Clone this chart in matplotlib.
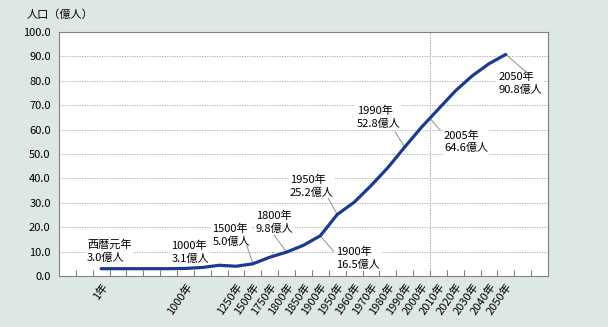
import numpy as np
import matplotlib.pyplot as plt
from matplotlib.ticker import FixedLocator, NullFormatter, FixedFormatter

plt.rcParams['font.family'] = ['Noto Sans CJK JP', 'DejaVu Sans']

# categories (29 slots, the first two and last two are empty)
year_labels = ['', '', '1年', '', '', '', '', '1000年', '', '', '1250年', '1500年',
               '1750年', '1800年', '1850年', '1900年', '1950年', '1960年', '1970年',
               '1980年', '1990年', '2000年', '2010年', '2020年', '2030年', '2040年',
               '2050年', '', '']
# population (億人), NaN where there is no point
population = [np.nan, np.nan, 3.0, 3.0, 3.0, 3.0, 3.0, 3.1, 3.5, 4.4, 4.0, 5.0,
              7.7, 9.8, 12.6, 16.5, 25.2, 30.2, 37.0, 44.4, 52.8, 61.0, 68.4,
              75.8, 82.0, 87.0, 90.8, np.nan, np.nan]

# annotations: (label, target x, target y, text x, text y, leader end x, leader end y)
notes = [
    ('西暦元年\n3.0億人', None, None, 1.16, 10.2, None, None),
    ('1000年\n3.1億人', None, None, 6.17, 9.8, None, None),
    ('1500年\n5.0億人', 11, 5.0, 8.59, 16.8, 10.63, 12.7),
    ('1800年\n9.8億人', 13, 9.8, 11.18, 22.1, 12.25, 16.8),
    ('1900年\n16.5億人', 15, 16.5, 15.93, 7.4, 15.77, 10.2),
    ('1950年\n25.2億人', 16, 25.2, 13.2, 36.8, 15.47, 31.8),
    ('1990年\n52.8億人', 20, 52.8, 17.16, 65.0, 19.43, 59.1),
    ('2005年\n64.6億人', 21.5, 64.6, 22.33, 55.0, 22.1, 59.8),
    ('2050年\n90.8億人', 26, 90.8, 25.56, 78.9, 27.28, 83.1),
]

bg = '#dde8e5'
fig = plt.figure(figsize=(6.08, 3.27), dpi=100, facecolor=bg)
ax = fig.add_axes([59 / 608, 51 / 327, 489 / 608, 244 / 327])
ax.set_facecolor('white')

x = np.arange(len(year_labels))
ax.plot(x, population, color='#1a3c8f', lw=2.3, solid_capstyle='round', zorder=3)

ax.set_xlim(-0.5, len(year_labels) - 0.5)
ax.set_ylim(0, 100)

# y axis
ax.set_yticks(np.arange(0, 101, 10))
ax.set_yticklabels([f'{v:.1f}' for v in np.arange(0, 101, 10)], fontsize=8)
ax.tick_params(axis='y', length=0, pad=6)
ax.grid(axis='y', color='#a0a0a0', lw=0.6, ls=(0, (1.5, 1.5)))

# x axis: ticks on slot boundaries, labels at slot centres
ax.xaxis.set_major_locator(FixedLocator(np.arange(0.5, len(year_labels) - 1, 1)))
ax.xaxis.set_major_formatter(NullFormatter())
ax.xaxis.set_minor_locator(FixedLocator(x))
ax.xaxis.set_minor_formatter(FixedFormatter(year_labels))
ax.tick_params(axis='x', which='major', direction='in', length=4, color='#808080')
ax.tick_params(axis='x', which='minor', length=0, pad=4, labelsize=8)
for lab in ax.get_xticklabels(minor=True):
    lab.set_rotation(55)
    lab.set_ha('right')
    lab.set_va('top')
    lab.set_rotation_mode('anchor')

# divider between actual and projected
ax.axvline(21.5, color='#909090', lw=0.6, ls=(0, (1.5, 1.5)), zorder=1)

for s in ax.spines.values():
    s.set_color('#808080')
    s.set_linewidth(0.8)

for text, tx, ty, lx, ly, ex, ey in notes:
    ax.text(lx, ly, text, fontsize=8, ha='left', va='center', linespacing=1.3, zorder=2.5,
            bbox=dict(facecolor='white', edgecolor='none', pad=1.0))
    if tx is not None:
        ax.plot([tx, ex], [ty, ey], color='#909090', lw=0.7, zorder=2.6)

fig.text(27 / 608, 1 - 15 / 327, '人口（億人）', fontsize=8, va='center', ha='left')

fig.savefig('out.png', dpi=100, facecolor=bg)
